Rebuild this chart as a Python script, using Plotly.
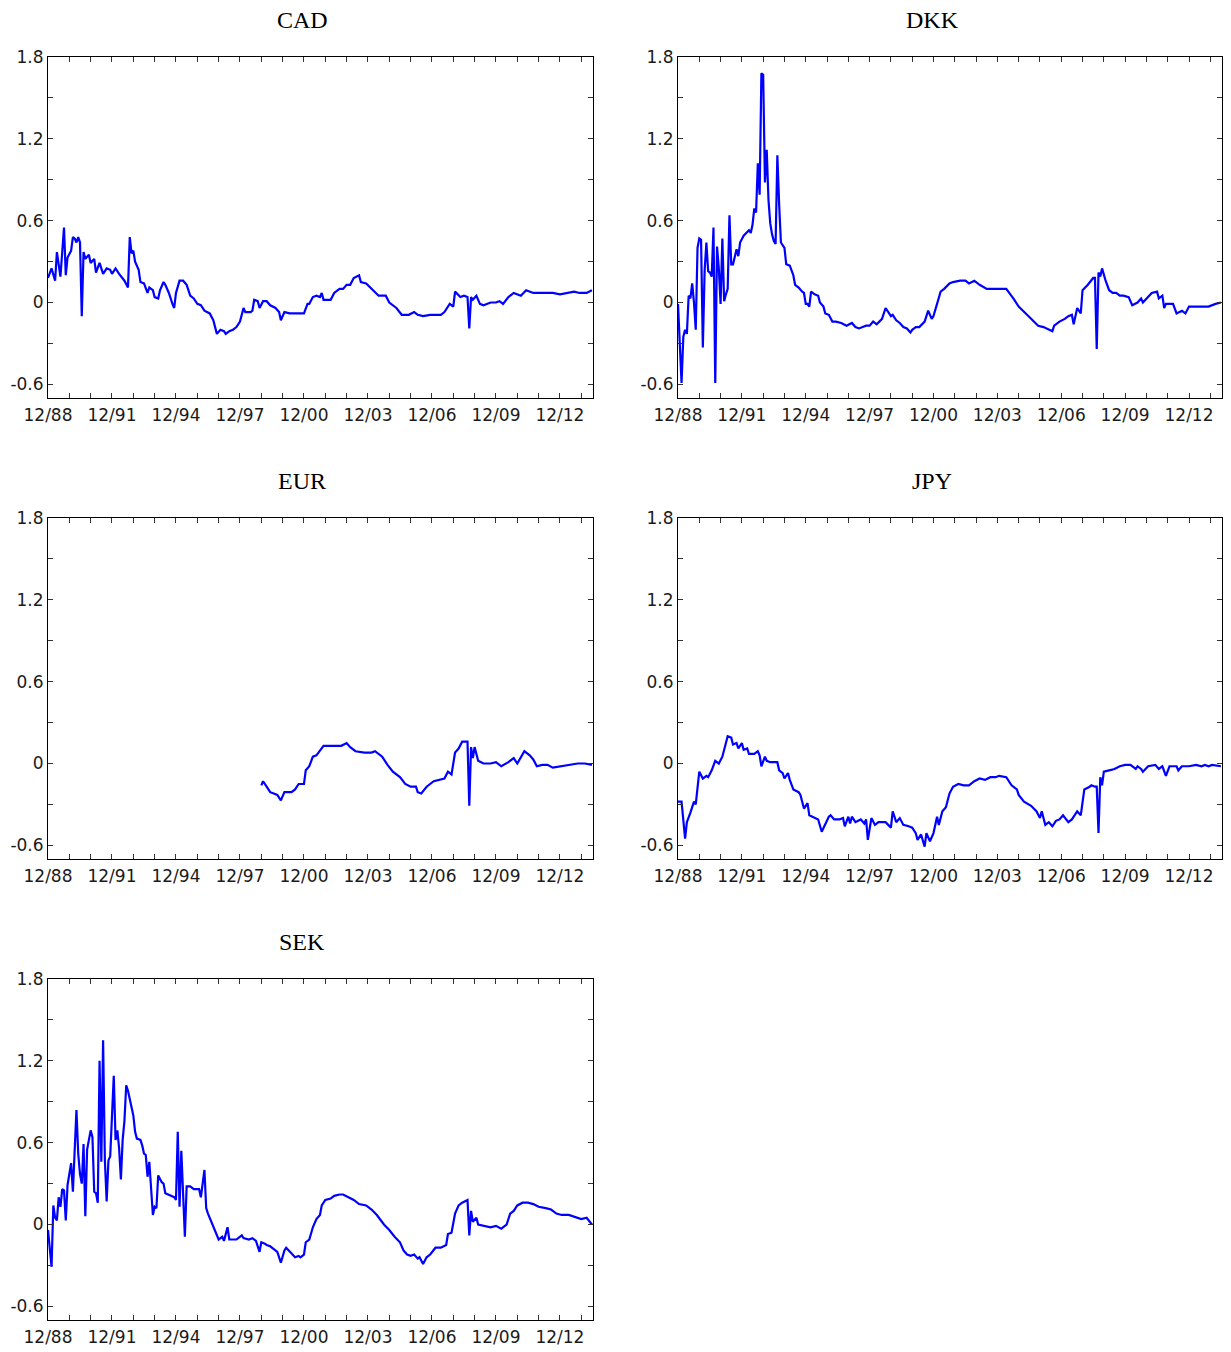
import plotly.graph_objects as go

# x = months since Dec 1988 (0 = 12/88)
cad_m = [0, 2, 4, 5, 7, 9, 10, 11, 13, 14, 15, 16, 17, 18, 19, 20, 21, 23, 24, 26, 27, 29, 31, 33, 35, 36, 38, 40, 43, 45,
         46, 47, 48, 49, 51, 52, 54, 56, 57, 59, 60, 62, 63, 65, 66, 68, 70, 71, 72, 74, 76, 78, 80, 82, 84, 86, 88, 91, 93, 94,
         95, 97, 99, 100, 102, 104, 106, 108, 110, 111, 114, 115, 116, 118, 119, 121, 123, 125, 128, 130, 131, 133, 136, 140, 144, 146, 147, 149, 151, 153,
         154, 155, 159, 161, 164, 166, 168, 170, 172, 175, 176, 179, 182, 186, 190, 192, 196, 199, 203, 206, 208, 211, 215, 218, 221, 223, 226, 228, 229, 232,
         234, 236, 237, 238, 239, 241, 243, 245, 249, 252, 254, 256, 259, 262, 266, 269, 273, 277, 281, 284, 288, 292, 296, 299, 303, 306]
cad_v = [0.18, 0.25, 0.16, 0.37, 0.19, 0.55, 0.20, 0.33, 0.38, 0.48, 0.47, 0.44, 0.48, 0.44, -0.10, 0.37, 0.32, 0.35, 0.29, 0.32, 0.22, 0.29, 0.21, 0.25, 0.24, 0.21, 0.25, 0.21, 0.16, 0.11,
         0.48, 0.36, 0.38, 0.30, 0.24, 0.15, 0.14, 0.07, 0.11, 0.09, 0.04, 0.03, 0.09, 0.15, 0.13, 0.07, -0.01, -0.04, 0.07, 0.16, 0.16, 0.13, 0.05, 0.03, -0.01, -0.02, -0.06, -0.08, -0.13, -0.19,
         -0.23, -0.20, -0.21, -0.23, -0.21, -0.20, -0.18, -0.14, -0.04, -0.07, -0.07, -0.06, 0.02, 0.01, -0.04, 0.01, 0.01, -0.02, -0.04, -0.07, -0.13, -0.07, -0.08, -0.08, -0.08, -0.01, -0.01, 0.04, 0.05, 0.04,
         0.07, 0.02, 0.02, 0.07, 0.10, 0.10, 0.13, 0.13, 0.18, 0.20, 0.15, 0.14, 0.10, 0.05, 0.05, 0.00, -0.04, -0.09, -0.09, -0.07, -0.09, -0.10, -0.09, -0.09, -0.09, -0.07, -0.01, -0.03, 0.08, 0.04,
         0.05, 0.04, -0.19, 0.04, 0.02, 0.05, -0.01, -0.02, 0.00, 0.00, 0.01, -0.01, 0.04, 0.07, 0.05, 0.09, 0.07, 0.07, 0.07, 0.07, 0.06, 0.07, 0.08, 0.07, 0.07, 0.09]

dkk_m = [0, 2, 3, 4, 5, 6, 7, 8, 9, 10, 11, 12, 13, 14, 15, 16, 17, 18, 19, 20, 21, 22, 23, 24, 25, 26, 27, 28, 29, 30,
         31, 32, 33, 34, 35, 37, 39, 40, 41, 42, 43, 44, 45, 46, 47, 48, 49, 50, 51, 52, 53, 54, 55, 56, 57, 58, 60, 61, 63, 65,
         66, 68, 70, 71, 72, 73, 74, 75, 77, 79, 80, 82, 83, 85, 87, 89, 92, 95, 98, 100, 102, 104, 106, 108, 110, 112, 114, 115, 117, 118,
         120, 121, 123, 125, 127, 129, 131, 132, 134, 136, 139, 141, 143, 144, 146, 148, 150, 153, 155, 159, 162, 164, 167, 170, 174, 177, 181, 185, 189, 192,
         196, 200, 203, 206, 209, 211, 212, 215, 218, 220, 222, 223, 225, 227, 228, 231, 234, 235, 236, 237, 238, 239, 241, 243, 245, 247, 249, 251, 254, 256,
         259, 261, 262, 264, 267, 270, 271, 273, 274, 275, 279, 281, 284, 286, 288, 292, 296, 299, 303, 306]
dkk_v = [-0.01, -0.59, -0.25, -0.20, -0.23, 0.05, 0.03, 0.14, 0.00, -0.20, 0.40, 0.47, 0.46, -0.33, 0.23, 0.44, 0.23, 0.22, 0.19, 0.55, -0.59, 0.41, 0.25, -0.01, 0.47, 0.01, 0.06, 0.10, 0.64, 0.28,
         0.28, 0.34, 0.39, 0.34, 0.44, 0.49, 0.52, 0.53, 0.51, 0.57, 0.69, 0.66, 1.02, 0.79, 1.68, 1.67, 0.88, 1.12, 0.75, 0.58, 0.50, 0.45, 0.43, 1.08, 0.72, 0.44, 0.40, 0.28, 0.27, 0.20,
         0.13, 0.11, 0.08, 0.07, -0.01, -0.01, -0.03, 0.08, 0.06, 0.05, 0.00, -0.03, -0.08, -0.09, -0.14, -0.14, -0.15, -0.17, -0.15, -0.18, -0.19, -0.18, -0.17, -0.17, -0.14, -0.16, -0.13, -0.12, -0.04, -0.06,
         -0.10, -0.09, -0.13, -0.15, -0.18, -0.19, -0.22, -0.20, -0.18, -0.18, -0.14, -0.06, -0.12, -0.10, -0.01, 0.08, 0.10, 0.14, 0.15, 0.16, 0.16, 0.14, 0.16, 0.13, 0.10, 0.10, 0.10, 0.10, 0.03, -0.03,
         -0.08, -0.13, -0.17, -0.18, -0.20, -0.21, -0.17, -0.14, -0.12, -0.10, -0.09, -0.16, -0.04, -0.08, 0.09, 0.13, 0.18, 0.18, -0.34, 0.22, 0.19, 0.25, 0.16, 0.09, 0.07, 0.07, 0.05, 0.05, 0.04, -0.02,
         0.00, 0.03, 0.00, 0.03, 0.07, 0.08, 0.03, 0.05, -0.04, -0.01, -0.01, -0.08, -0.06, -0.08, -0.03, -0.03, -0.03, -0.03, -0.01, 0.00]

eur_m = [120, 121, 123, 125, 127, 129, 131, 133, 135, 137, 139, 141, 144, 145, 147, 149, 151, 153, 155, 159, 162, 165, 168, 170, 173, 178, 182, 184, 188, 191,
         194, 198, 201, 204, 207, 208, 210, 213, 217, 220, 223, 225, 227, 229, 231, 233, 236, 237, 238, 239, 240, 242, 245, 249, 252, 255, 259, 262, 264, 268,
         271, 273, 275, 278, 281, 284, 289, 293, 298, 302, 306]
eur_v = [-0.16, -0.13, -0.17, -0.21, -0.22, -0.23, -0.27, -0.21, -0.21, -0.21, -0.19, -0.15, -0.15, -0.05, -0.02, 0.05, 0.06, 0.10, 0.13, 0.13, 0.13, 0.13, 0.15, 0.12, 0.09, 0.08, 0.08, 0.09, 0.05, -0.01,
         -0.06, -0.10, -0.15, -0.17, -0.17, -0.21, -0.22, -0.17, -0.13, -0.12, -0.11, -0.06, -0.08, 0.08, 0.11, 0.16, 0.16, -0.31, 0.12, 0.04, 0.12, 0.02, 0.00, 0.00, 0.01, -0.02, 0.01, 0.04, 0.00, 0.09,
         0.06, 0.03, -0.02, -0.01, -0.01, -0.03, -0.02, -0.01, 0.00, 0.00, -0.01]

jpy_m = [0, 2, 4, 5, 7, 9, 10, 11, 12, 14, 16, 17, 19, 21, 23, 25, 27, 28, 30, 31, 33, 34, 36, 37, 39, 40, 43, 45, 46, 47,
         49, 50, 52, 56, 57, 59, 60, 62, 63, 65, 68, 69, 71, 73, 74, 77, 79, 81, 83, 85, 86, 88, 91, 93, 94, 96, 97, 98, 100, 103,
         105, 106, 107, 109, 111, 113, 117, 120, 121, 123, 125, 127, 130, 132, 134, 135, 137, 139, 140, 142, 144, 146, 147, 149, 151, 153, 155, 158, 161, 164,
         167, 170, 173, 176, 179, 181, 185, 188, 191, 192, 195, 199, 202, 204, 205, 207, 209, 211, 213, 215, 217, 220, 222, 225, 227, 228, 229, 232, 233, 235,
         236, 237, 238, 239, 240, 243, 246, 249, 252, 255, 258, 259, 261, 262, 265, 269, 271, 273, 275, 277, 281, 282, 284, 288, 292, 295, 297, 299, 301, 306]
jpy_v = [-0.28, -0.28, -0.55, -0.43, -0.36, -0.28, -0.30, -0.17, -0.06, -0.11, -0.09, -0.10, -0.05, 0.02, 0.00, 0.05, 0.16, 0.20, 0.19, 0.14, 0.15, 0.11, 0.15, 0.10, 0.11, 0.07, 0.07, 0.09, 0.06, -0.02,
         0.05, 0.02, 0.01, 0.01, -0.05, -0.07, -0.11, -0.07, -0.12, -0.19, -0.21, -0.23, -0.33, -0.29, -0.38, -0.40, -0.41, -0.50, -0.45, -0.39, -0.38, -0.41, -0.41, -0.40, -0.46, -0.39, -0.44, -0.39, -0.43, -0.41,
         -0.44, -0.41, -0.56, -0.40, -0.45, -0.43, -0.43, -0.47, -0.35, -0.43, -0.40, -0.45, -0.46, -0.47, -0.51, -0.56, -0.52, -0.61, -0.51, -0.57, -0.51, -0.39, -0.45, -0.35, -0.32, -0.22, -0.17, -0.15, -0.16, -0.16,
         -0.13, -0.11, -0.12, -0.10, -0.10, -0.09, -0.10, -0.16, -0.19, -0.23, -0.28, -0.31, -0.35, -0.40, -0.35, -0.45, -0.43, -0.46, -0.42, -0.41, -0.38, -0.43, -0.41, -0.35, -0.38, -0.27, -0.19, -0.17, -0.16, -0.17,
         -0.17, -0.51, -0.10, -0.16, -0.06, -0.05, -0.04, -0.02, -0.01, -0.01, -0.04, -0.02, -0.04, -0.06, -0.02, -0.01, -0.04, -0.02, -0.09, -0.02, -0.02, -0.05, -0.02, -0.02, -0.01, -0.02, -0.01, -0.02, -0.01, -0.02]

sek_m = [0, 2, 3, 4, 5, 6, 7, 8, 9, 10, 11, 12, 13, 14, 16, 17, 18, 19, 20, 21, 22, 24, 25, 26, 27, 28, 29, 30, 31, 32,
         33, 34, 35, 37, 38, 39, 40, 41, 42, 43, 44, 45, 46, 47, 48, 49, 50, 52, 53, 54, 55, 56, 57, 59, 60, 61, 62, 64, 65, 66,
         69, 71, 72, 73, 74, 75, 77, 78, 80, 82, 85, 86, 88, 89, 90, 92, 94, 96, 98, 99, 101, 102, 106, 109, 110, 113, 115, 117, 119, 120,
         122, 123, 125, 127, 129, 131, 133, 134, 136, 139, 141, 142, 144, 145, 147, 149, 151, 153, 154, 156, 159, 161, 164, 166, 169, 172, 175, 179, 182, 185,
         189, 192, 195, 198, 200, 202, 204, 206, 208, 209, 211, 213, 215, 218, 221, 224, 225, 227, 229, 231, 233, 236, 237, 238, 239, 241, 242, 245, 249, 252,
         255, 258, 260, 262, 264, 267, 270, 273, 276, 280, 283, 286, 289, 293, 297, 300, 303, 306]
sek_v = [-0.04, -0.31, 0.14, 0.05, 0.03, 0.20, 0.13, 0.26, 0.25, 0.03, 0.29, 0.36, 0.45, 0.24, 0.84, 0.52, 0.37, 0.30, 0.59, 0.06, 0.55, 0.69, 0.64, 0.24, 0.23, 0.16, 1.20, 0.46, 1.35, 0.47,
         0.17, 0.47, 0.50, 1.09, 0.62, 0.69, 0.56, 0.33, 0.62, 0.76, 1.02, 0.98, 0.92, 0.86, 0.80, 0.68, 0.63, 0.62, 0.58, 0.52, 0.51, 0.35, 0.46, 0.07, 0.13, 0.12, 0.36, 0.31, 0.30, 0.23,
         0.21, 0.20, 0.18, 0.68, 0.13, 0.54, -0.09, 0.28, 0.28, 0.26, 0.26, 0.20, 0.40, 0.12, 0.08, 0.02, -0.04, -0.11, -0.09, -0.12, -0.02, -0.11, -0.11, -0.08, -0.10, -0.11, -0.10, -0.12, -0.20, -0.13,
         -0.14, -0.15, -0.16, -0.18, -0.20, -0.28, -0.19, -0.17, -0.20, -0.24, -0.23, -0.24, -0.22, -0.13, -0.11, -0.02, 0.04, 0.07, 0.14, 0.18, 0.19, 0.21, 0.22, 0.22, 0.20, 0.18, 0.15, 0.14, 0.11, 0.07,
         0.00, -0.04, -0.09, -0.13, -0.19, -0.22, -0.23, -0.22, -0.25, -0.24, -0.29, -0.24, -0.22, -0.17, -0.17, -0.15, -0.07, -0.06, 0.08, 0.14, 0.16, 0.18, -0.08, 0.10, 0.02, 0.05, 0.00, -0.01, -0.02, -0.01,
         -0.03, 0.00, 0.08, 0.10, 0.14, 0.16, 0.16, 0.15, 0.13, 0.12, 0.11, 0.08, 0.07, 0.07, 0.05, 0.04, 0.05, 0.00]

panel_names = ["CAD", "DKK", "EUR", "JPY", "SEK"]
x_tick_months = [0, 12, 24, 36, 48, 60, 72, 84, 96, 108, 120, 132, 144, 156, 168, 180, 192, 204, 216, 228, 240, 252, 264, 276, 288, 300]
x_tick_text = ["12/88", "", "", "12/91", "", "", "12/94", "", "", "12/97", "", "", "12/00", "", "", "12/03", "", "",
               "12/06", "", "", "12/09", "", "", "12/12", ""]
y_tick_vals = [-0.6, -0.3, 0, 0.3, 0.6, 0.9, 1.2, 1.5, 1.8]
y_tick_text = ["-0.6", "", "0", "", "0.6", "", "1.2", "", "1.8"]

series = [(cad_m, cad_v), (dkk_m, dkk_v), (eur_m, eur_v), (jpy_m, jpy_v), (sek_m, sek_v)]

W, H = 1231, 1352
OFF = 8  # page body margin in the browser
col_px = [(48, 593), (678, 1222)]
row_px = [(57, 398), (518, 859), (979, 1320)]
title_x_px = [302, 932]
title_y_px = [20, 481, 942]

fig = go.Figure()
layout = dict(
    width=W, height=H, margin=dict(l=0, r=0, t=0, b=0, pad=0, autoexpand=False),
    paper_bgcolor="white", plot_bgcolor="white", showlegend=False, template="none",
)
annotations = []
tickfont = dict(family="DejaVu Sans, Liberation Sans, sans-serif", size=17, color="#1a1a1a")
for i, (name, (xm, yv)) in enumerate(zip(panel_names, series)):
    r, c = divmod(i, 2)
    ax = "" if i == 0 else str(i + 1)
    fig.add_trace(go.Scatter(x=xm, y=yv, mode="lines", line=dict(color="#0000FF", width=2.2),
                             xaxis="x" + ax, yaxis="y" + ax, hoverinfo="skip"))
    x0, x1 = col_px[c][0] - OFF, col_px[c][1] - OFF
    y0, y1 = row_px[r][0] - OFF, row_px[r][1] - OFF
    layout["xaxis" + ax] = dict(
        domain=[x0 / W, x1 / W], anchor="y" + ax, range=[0, 306.6],
        tickmode="array", tickvals=x_tick_months, ticktext=x_tick_text,
        ticks="inside", ticklen=5, tickwidth=1, tickcolor="#333",
        showline=True, linecolor="black", linewidth=1, mirror="ticks",
        showgrid=False, zeroline=False, tickfont=tickfont, ticklabelstandoff=2,
        automargin=False,
    )
    layout["yaxis" + ax] = dict(
        domain=[1 - y1 / H, 1 - y0 / H], anchor="x" + ax, range=[-0.7, 1.8],
        tickmode="array", tickvals=y_tick_vals, ticktext=y_tick_text,
        ticks="inside", ticklen=5, tickwidth=1, tickcolor="#333",
        showline=True, linecolor="black", linewidth=1, mirror="ticks",
        showgrid=False, zeroline=False, tickfont=tickfont, ticklabelstandoff=0,
        automargin=False,
    )
    annotations.append(dict(
        text=name, xref="paper", yref="paper",
        x=(title_x_px[c] - OFF) / W, y=1 - (title_y_px[r] - OFF) / H,
        xanchor="center", yanchor="middle", showarrow=False,
        font=dict(family="Liberation Serif, Times New Roman, serif", size=24, color="black"),
    ))
layout["annotations"] = annotations
fig.update_layout(**layout)
fig.write_html("out.html")
